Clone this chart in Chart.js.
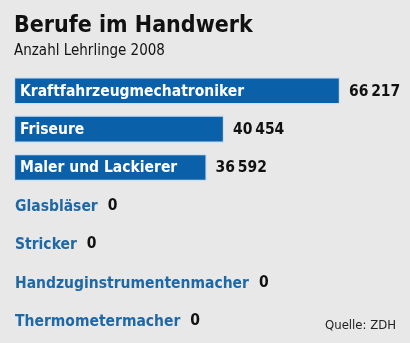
<!DOCTYPE html>
<html>
<head>
<meta charset="utf-8">
<script src="https://cdn.jsdelivr.net/npm/chart.js@4.4.1/dist/chart.umd.min.js"></script>
<style>
  html, body { margin: 0; padding: 0; background: #e8e8e8; }
  #chartBox { width: 410px; height: 343px; }
</style>
</head>
<body>
<div id="chartBox"><canvas id="berufeChart" width="410" height="343"></canvas></div>
<script>
// Daten
const berufe = [
  "Kraftfahrzeugmechatroniker",
  "Friseure",
  "Maler und Lackierer",
  "Glasbläser",
  "Stricker",
  "Handzuginstrumentenmacher",
  "Thermometermacher",
];
const lehrlinge = [66217, 40454, 36592, 0, 0, 0, 0];
const titel = "Berufe im Handwerk";
const untertitel = "Anzahl Lehrlinge 2008";
const quelle = "Quelle: ZDH";

const barBlue = "#0b60aa";
const textBlue = "#1f68a6";
const fontFam = "'DejaVu Sans Condensed', 'DejaVu Sans', sans-serif";
const labelFont = "bold 15.5px " + fontFam;
const scaleMin = -6200;

function formatZahl(v) {
  return String(v).replace(/\B(?=(\d{3})+(?!\d))/g, "\u2009");
}

// Beschriftungen in und neben den Balken
const labelPlugin = {
  id: "labelPlugin",
  afterDatasetsDraw(chart) {
    const ctx = chart.ctx;
    const meta = chart.getDatasetMeta(0);
    const left = chart.chartArea.left;
    ctx.save();
    ctx.font = labelFont;
    ctx.textBaseline = "middle";
    meta.data.forEach((bar, i) => {
      const value = lehrlinge[i];
      const y = bar.y + 1;
      if (value > 0) {
        ctx.fillStyle = "#ffffff";
        ctx.fillText(berufe[i], left + 6, y);
        ctx.fillStyle = "#111111";
        ctx.fillText(formatZahl(value), bar.x + 9, y);
      } else {
        ctx.fillStyle = textBlue;
        ctx.fillText(berufe[i], left + 1, y);
        const w = ctx.measureText(berufe[i]).width;
        ctx.fillStyle = "#111111";
        ctx.fillText(formatZahl(value), left + w + 11, y - 1);
      }
    });
    ctx.font = "13px " + fontFam;
    ctx.fillStyle = "#222222";
    ctx.textAlign = "right";
    ctx.fillText(quelle, 396, 326);
    ctx.restore();
  },
};

const ctx = document.getElementById("berufeChart").getContext("2d");
const berufeChart = new Chart(ctx, {
  type: "bar",
  data: {
    labels: berufe,
    datasets: [
      {
        label: untertitel,
        data: lehrlinge,
        base: scaleMin,
        backgroundColor: (c) => (lehrlinge[c.dataIndex] > 0 ? barBlue : "rgba(0,0,0,0)"),
        borderColor: (c) => (lehrlinge[c.dataIndex] > 0 ? "#cfe0f0" : "rgba(0,0,0,0)"),
        borderWidth: 1.5,
        borderSkipped: false,
        barThickness: 27,
      },
    ],
  },
  options: {
    indexAxis: "y",
    responsive: false,
    animation: false,
    layout: {
      padding: { left: 14, right: 17, top: 0, bottom: 3 },
    },
    scales: {
      x: { display: false, min: scaleMin, max: 78000 },
      y: { display: false },
    },
    plugins: {
      legend: { display: false },
      tooltip: { enabled: false },
      title: {
        display: true,
        text: titel,
        align: "start",
        color: "#111111",
        font: { family: fontFam, size: 23, weight: "bold" },
        padding: { top: 12, bottom: 0 },
      },
      subtitle: {
        display: true,
        text: untertitel,
        align: "start",
        color: "#111111",
        font: { family: fontFam, size: 15 },
        padding: { top: 3, bottom: 11 },
      },
    },
  },
  plugins: [labelPlugin],
});
</script>
</body>
</html>
